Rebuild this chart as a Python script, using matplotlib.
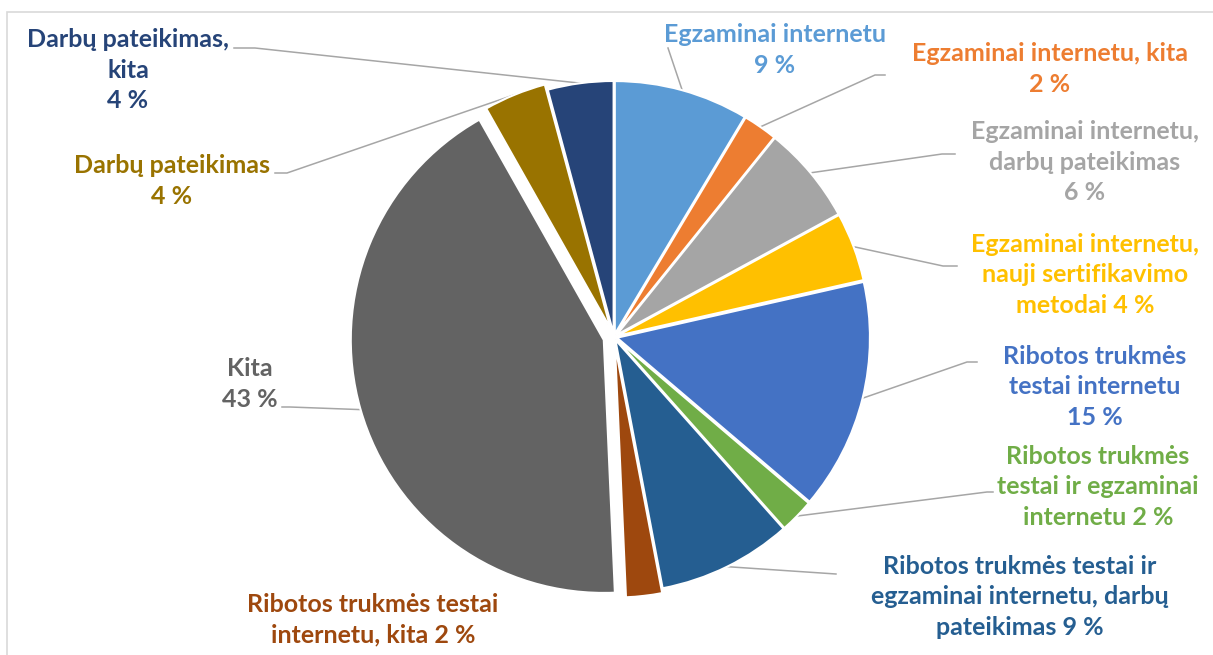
import numpy as np
import matplotlib
matplotlib.use("Agg")
import matplotlib.pyplot as plt

# ---------------- data ----------------
categories = [
    "Egzaminai internetu",
    "Egzaminai internetu, kita",
    "Egzaminai internetu, darbų pateikimas",
    "Egzaminai internetu, nauji sertifikavimo metodai",
    "Ribotos trukmės testai internetu",
    "Ribotos trukmės testai ir egzaminai internetu",
    "Ribotos trukmės testai ir egzaminai internetu, darbų pateikimas",
    "Ribotos trukmės testai internetu, kita",
    "Kita",
    "Darbų pateikimas",
    "Darbų pateikimas, kita",
]
values = [8.6, 2.2, 6.3, 4.4, 14.8, 2.2, 8.6, 2.3, 42.6, 4.0, 4.2]

# label texts with line breaks (as in the chart), percentage appended
label_names = [
    "Egzaminai internetu\n",
    "Egzaminai internetu, kita\n",
    "Egzaminai internetu,\ndarbų pateikimas\n",
    "Egzaminai internetu,\nnauji sertifikavimo\nmetodai ",
    "Ribotos trukmės\ntestai internetu\n",
    "Ribotos trukmės\ntestai ir egzaminai\ninternetu ",
    "Ribotos trukmės testai ir\negzaminai internetu, darbų\npateikimas ",
    "Ribotos trukmės testai\ninternetu, kita ",
    "Kita\n",
    "Darbų pateikimas\n",
    "Darbų pateikimas,\nkita\n",
]

# ---------------- style ----------------
colors = ["#5B9BD5", "#ED7D31", "#A5A5A5", "#FFC000", "#4472C4", "#70AD47",
          "#255E91", "#9E480E", "#636363", "#997300", "#264478"]
# explode as fraction of the radius
explode_frac = [0.012, 0.012, 0.012, 0.012, 0.012, 0.012, 0.012, 0.03, 0.042, 0.035, 0.012]

W, H = 1213, 655
fig = plt.figure(figsize=(W / 100, H / 100), dpi=100)
ax = fig.add_axes([0, 0, 1, 1])

def Y(y):
    return H - y

cx, cy, R = 614, Y(337), 253
explode = [f * R for f in explode_frac]

wedges, _ = ax.pie(values, colors=colors, explode=explode, startangle=90,
                   counterclock=False, center=(cx, cy), radius=R,
                   wedgeprops=dict(edgecolor="white", linewidth=1.5),
                   frame=True)
ax.set_xlim(0, W)
ax.set_ylim(0, H)
ax.set_aspect("equal")
ax.axis("off")

# border frame
ax.plot([7, 7, W + 5], [-5, Y(12), Y(12)], color="#D9D9D9", lw=1.2,
        solid_joinstyle="miter", clip_on=False)

# label positions (pixel centers) and leader line anchor points
label_pos = [(775, 50), (1050, 69), (1085, 162), (1085, 275), (1095, 387),
             (1098, 487), (1020, 597), (373, 620), (250, 384), (172, 181), (128, 70)]
leader = [
    [(668, 48)],
    [(885, 75), (875, 75)],
    [(955, 154), (942, 154)],
    [(957, 266), (943, 266)],
    [(977, 362), (967, 362)],
    [(993, 492), (987, 492)],
    [(836, 574)],
    None,
    [(282, 407), (290, 407)],
    [(275, 173), (287, 173)],
    [(234, 48), (255, 48)],
]

font = ["Lato", "DejaVu Sans"]
for i, (w, v) in enumerate(zip(wedges, values)):
    tx, ty = label_pos[i]
    ax.text(tx, Y(ty), f"{label_names[i]}{round(v)} %", ha="center", va="center",
            color=colors[i], fontsize=18, fontweight="bold", family=font,
            linespacing=1.38)
    if leader[i] is not None:
        mid = np.deg2rad((w.theta1 + w.theta2) / 2)
        ex = w.center[0] + w.r * np.cos(mid)
        ey = w.center[1] + w.r * np.sin(mid)
        xs = [p[0] for p in leader[i]] + [ex]
        ys = [Y(p[1]) for p in leader[i]] + [ey]
        ax.plot(xs, ys, color="#A6A6A6", lw=1.1, zorder=0.5)

fig.savefig("out.png", dpi=100)
